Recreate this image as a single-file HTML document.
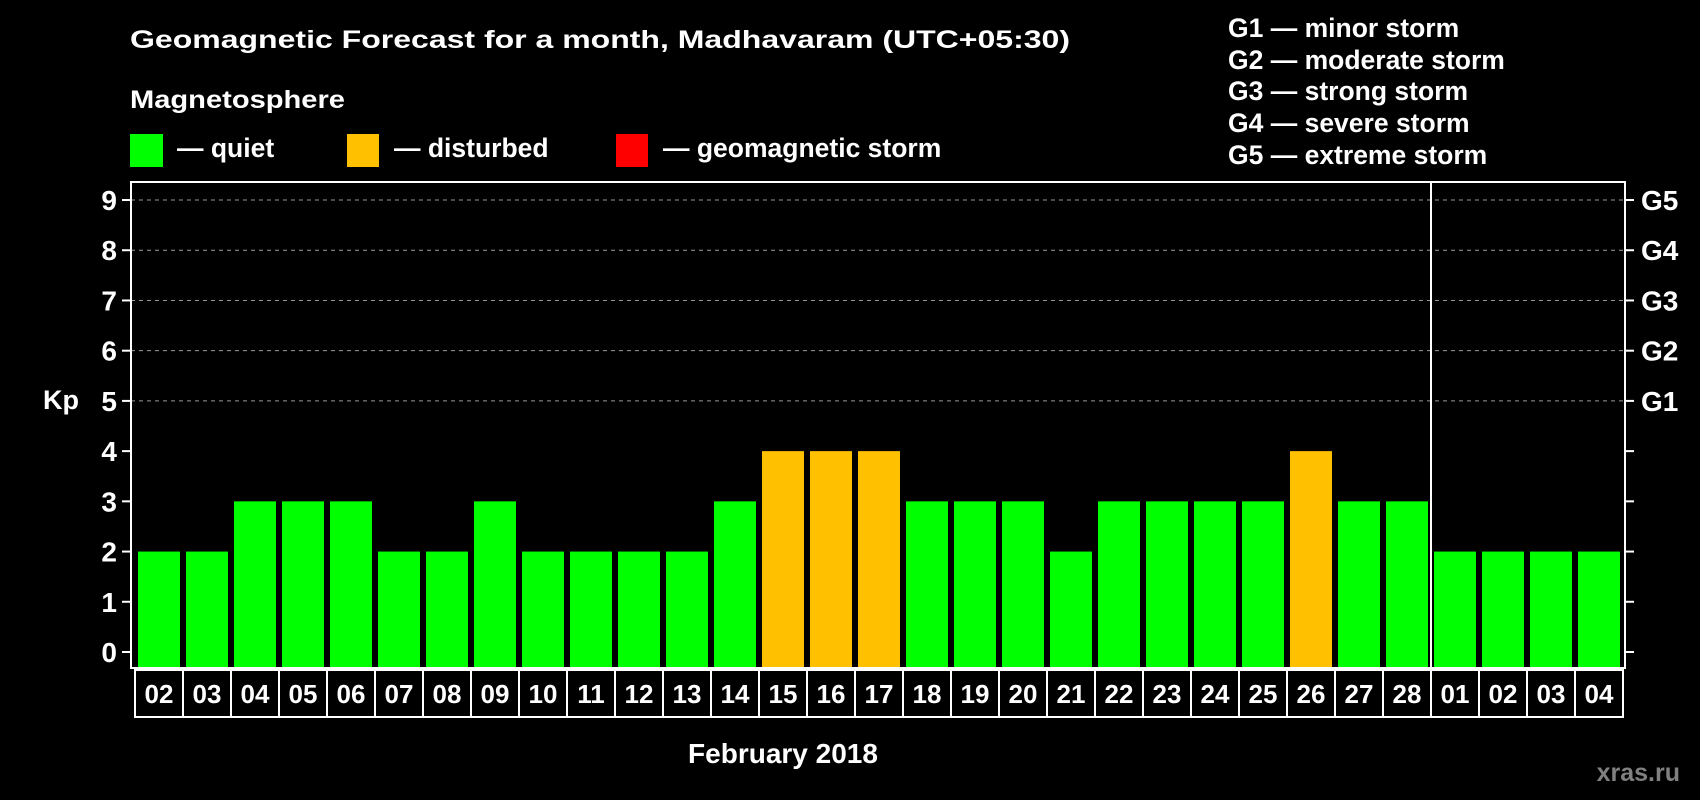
<!DOCTYPE html>
<html><head><meta charset="utf-8"><style>
body{margin:0;background:#000;width:1700px;height:800px;overflow:hidden}
svg{display:block}
text{font-family:"Liberation Sans",Arial,sans-serif;font-weight:bold;fill:#fff}
</style></head><body>
<svg id="c" width="1700" height="800" xmlns="http://www.w3.org/2000/svg">
<rect width="1700" height="800" fill="#000"/>
<text x="130" y="48" font-size="25" textLength="940" lengthAdjust="spacingAndGlyphs">Geomagnetic Forecast for a month, Madhavaram (UTC+05:30)</text>
<text x="130" y="108" font-size="25" textLength="215" lengthAdjust="spacingAndGlyphs">Magnetosphere</text>
<g><rect x="130" y="134" width="33" height="33" fill="#00ff00"/><text x="177" y="157" font-size="26.5">— quiet</text></g>
<g><rect x="347" y="134" width="32" height="33" fill="#ffc000"/><text x="394" y="157" font-size="26.5">— disturbed</text></g>
<g><rect x="616" y="134" width="32" height="33" fill="#ff0000"/><text x="663" y="157" font-size="26.5">— geomagnetic storm</text></g>
<g font-size="26.5">
<text x="1228" y="37">G1 — minor storm</text>
<text x="1228" y="69">G2 — moderate storm</text>
<text x="1228" y="100">G3 — strong storm</text>
<text x="1228" y="132">G4 — severe storm</text>
<text x="1228" y="164">G5 — extreme storm</text>
</g>
<text x="43" y="409" font-size="27">Kp</text>
<text x="783" y="763" font-size="28" text-anchor="middle">February 2018</text>
<text x="1680" y="781" font-size="25" text-anchor="end" style="fill:#808080">xras.ru</text>
<g id="plot"></g>
</svg>
<script>
const days=["02","03","04","05","06","07","08","09","10","11","12","13","14","15","16","17","18","19","20","21","22","23","24","25","26","27","28","01","02","03","04"];
const kp=[2,2,3,3,3,2,2,3,2,2,2,2,3,4,4,4,3,3,3,2,3,3,3,3,4,3,3,2,2,2,2];
const yTicks=[0,1,2,3,4,5,6,7,8,9];
const gLabels=["G1","G2","G3","G4","G5"];
const NS="http://www.w3.org/2000/svg";
const g=document.getElementById('plot');
const X0=135,SW=48,L=131,R=1625,T=182,B=668;
function y(v){return 652-50.22*v;}
function x(i){return X0+SW*i;}
function mk(t,a){const e=document.createElementNS(NS,t);for(const k in a)e.setAttribute(k,a[k]);g.appendChild(e);return e;}
yTicks.forEach(v=>{
 if(v>=5){const l=mk('line',{x1:L,x2:R,y1:y(v),y2:y(v),stroke:'#999','stroke-dasharray':'4,4','stroke-width':1});
 
 }
 const t1=mk('line',{x1:L-9,x2:L,y1:y(v),y2:y(v),stroke:'#fff','stroke-width':2});
 
 
 const t2=mk('line',{x1:R,x2:R+9,y1:y(v),y2:y(v),stroke:'#fff','stroke-width':2});
 
 
 const tx=mk('text',{x:117,y:y(v)+10,'font-size':28,'text-anchor':'end'});tx.textContent=v;
 
 
});
gLabels.forEach((s,i)=>{
 const tx=mk('text',{x:1641,y:y(5+i)+10,'font-size':28});tx.textContent=s;
 
 
});
kp.forEach((v,i)=>{
 const c=v>=5?'#ff0000':(v>=4?'#ffc000':'#00ff00');
 const r=mk('rect',{x:x(i)+3,y:y(v),width:42,height:B-y(v),fill:c});
 
 
 const b=mk('rect',{x:x(i),y:670,width:SW,height:47,fill:'none',stroke:'#fff','stroke-width':2});
 
 
 const t=mk('text',{x:x(i)+SW/2,y:703,'font-size':26,'text-anchor':'middle'});t.textContent=days[i];
 
 
});
const f=mk('rect',{x:L,y:T,width:R-L,height:B-T,fill:'none',stroke:'#fff','stroke-width':2});


const d=mk('line',{x1:x(27),x2:x(27),y1:T,y2:B,stroke:'#fff','stroke-width':2});


</script>
</body></html>
